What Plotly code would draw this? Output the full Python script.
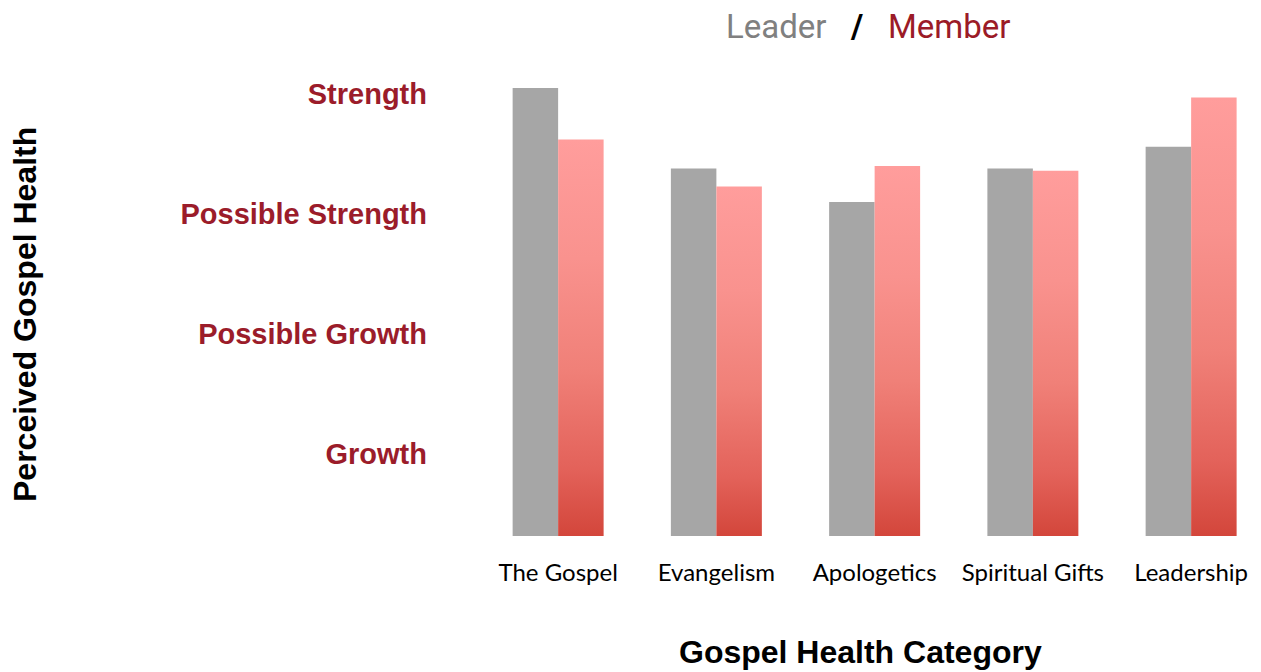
import plotly.graph_objects as go

categories = ["The Gospel", "Evangelism", "Apologetics", "Spiritual Gifts", "Leadership"]
leader = [4.05, 3.38, 3.10, 3.38, 3.56]
member = [3.62, 3.23, 3.40, 3.36, 3.97]
tick_vals = [1, 2, 3, 4]
tick_text = ["Growth", "Possible Growth", "Possible Strength", "Strength"]

FLOOR = 0.3167
TOP = 4.2
W = 0.2875
xs = list(range(len(categories)))

# page has an 8px body margin; figure placed at (8, 8)
OFF = 8
FW, FH = 1261 - OFF, 672 - OFF
L, T = 479 - OFF, 70 - OFF
B = FH - (536 - OFF)

fig = go.Figure()
fig.add_trace(go.Bar(x=xs, y=leader, base=0, width=W, offset=-W,
                     marker=dict(color="#a6a6a6", line=dict(width=0)),
                     name="Leader", showlegend=False))

grad = [[0.0, "#d3463b"], [0.17, "#e3625a"], [0.42, "#f08078"],
        [0.7, "#f9928e"], [1.0, "#ff9d9c"]]
for i, v in zip(xs, member):
    fig.add_trace(go.Scatter(
        x=[i, i + W, i + W, i, i], y=[0, 0, v, v, 0],
        mode="lines", line=dict(width=0), fill="toself",
        fillcolor="#f08078",
        fillgradient=dict(type="vertical", colorscale=grad, start=FLOOR, stop=v),
        hoverinfo="skip", showlegend=False))

fig.update_layout(
    width=FW, height=FH,
    margin=dict(l=L, r=0, t=T, b=B),
    plot_bgcolor="white", paper_bgcolor="white",
    xaxis=dict(range=[-0.5, -0.5 + (FW - L) / 158.25], tickvals=xs, ticktext=categories,
               showgrid=False, zeroline=False, showline=False, ticks="",
               ticklabelstandoff=20,
               tickfont=dict(family="Lato", size=24, color="black")),
    yaxis=dict(range=[FLOOR, TOP], tickvals=tick_vals, ticktext=tick_text,
               showgrid=False, zeroline=False, showline=False, ticks="",
               ticklabelstandoff=51,
               tickfont=dict(family="Liberation Sans", size=29, color="#9b1c2a",
                             weight="bold")),
    annotations=[
        dict(text="<span style='color:#808080'>Leader</span>   "
                  "<b><span style='color:black'>/</span></b>   "
                  "<span style='color:#9b1b27'>Member</span>",
             x=868, y=26, showarrow=False,
             font=dict(family="Roboto", size=33)),
        dict(text="<b>Gospel Health Category</b>", x=860, y=652, showarrow=False,
             font=dict(family="Liberation Sans", size=32, color="black")),
        dict(text="<b>Perceived Gospel Health</b>", x=25, y=315, textangle=-90,
             showarrow=False,
             font=dict(family="Liberation Sans", size=32, color="black")),
    ],
)

# convert screen-pixel-placed annotations to paper coordinates
pw, ph = FW - L, FH - T - B
for a in fig.layout.annotations:
    px, py = a.x - OFF, a.y - OFF
    a.xref = "paper"; a.yref = "paper"
    a.x = (px - L) / pw
    a.y = (FH - B - py) / ph
    a.xanchor = "center"; a.yanchor = "middle"

fig.write_html("out.html")
